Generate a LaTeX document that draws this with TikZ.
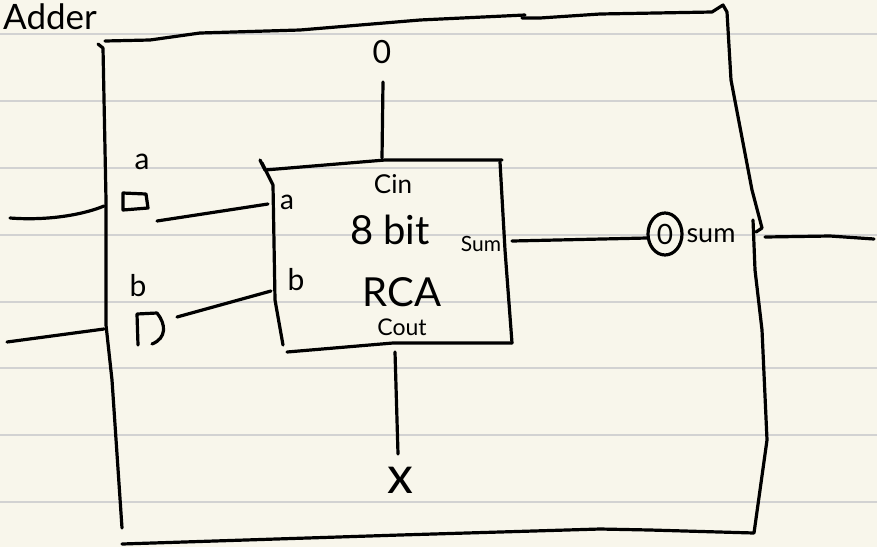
\documentclass[tikz,border=0pt]{standalone}
\usepackage{fontspec}
\setmainfont{Lato}
\definecolor{paper}{HTML}{F8F6EB}
\definecolor{rule}{HTML}{D2D2D2}
\begin{document}
\begin{tikzpicture}[x=1pt,y=-1pt,
  ink/.style={line width=3.2pt,line cap=round,line join=round,black},
  ruleline/.style={line width=2pt,rule},
  lbl/.style={inner sep=0pt,font=\fontsize{30}{30}\selectfont},
  big/.style={inner sep=0pt,font=\fontsize{40}{40}\selectfont}]
\useasboundingbox (0,0) rectangle (877,547);
\fill[paper] (0,0) rectangle (877,547);
\foreach \y in {34,101,168,235,302,368,435,502}
  \draw[ruleline] (0,\y) -- (877,\y);

% title
\node[anchor=base west,inner sep=0pt,font=\fontsize{35}{35}\selectfont] (title) at (3,29) {Adder};

% outer box
\draw[ink] (98,44) -- (103,48) -- (106,200) -- (106,325) -- (112,380) -- (122,528);
\draw[ink] (105,41) -- (150,40) -- (200,33) -- (300,30) -- (420,20) -- (525,15);
\draw[ink] (522,18) -- (540,18) -- (600,14) -- (712,12) -- (723,5) -- (727,12) -- (731,80) -- (752,190) -- (762,228) -- (756,232);
\draw[ink] (753,220) -- (755,270) -- (762,330) -- (767,440) -- (754,533) -- (650,530) -- (600,529) -- (400,535) -- (122,544);

% input wires
\coordinate (ainL) at (10,218);
\coordinate (ainR) at (104,206);
\coordinate (binL) at (7,342);
\coordinate (binR) at (104,329);
\draw[ink] (ainL) .. controls (50,221) and (85,214) .. (ainR);
\draw[ink] (binL) -- (binR);

% outer labels & ports
\node[lbl] (la) at (142,162) {a};
\draw[ink] (123,193) -- (123,210) -- (148,208) -- (146,194) -- cycle;
\node[lbl] (lb) at (138,286) {b};
\draw[ink] (138,345) -- (137,314) -- (157,313) .. controls (166,324) and (167,338) .. (152,344);

% inner RCA box
\draw[ink] (260,160) -- (265,170) -- (385,160) -- (502,160);
\draw[ink] (262,163) -- (273,185) -- (275,300) -- (283,345);
\draw[ink] (500,162) -- (505,250) -- (512,343);
\draw[ink] (287,352) -- (393,343) -- (512,343);

\node[lbl,font=\fontsize{28}{28}\selectfont] (ia) at (287,202) {a};
\node[lbl] (ib) at (296,280) {b};
\node[lbl,font=\fontsize{26}{26}\selectfont] (cin) at (393,184) {Cin};
\node[big] (bits) at (390,230) {8 bit};
\node[big] (rca) at (402,292) {RCA};
\node[lbl,font=\fontsize{23}{23}\selectfont] (cout) at (402,327) {Cout};
\node[lbl,font=\fontsize{21}{21}\selectfont] (isum) at (481,244) {Sum};

\coordinate (aPort) at (157,221);
\coordinate (aPin) at (268,204);
\coordinate (bPort) at (177,317);
\coordinate (bPin) at (271,291);
\draw[ink] (aPort) -- (aPin);
\draw[ink] (bPort) -- (bPin);

% top constant 0
\node[lbl,font=\fontsize{32}{32}\selectfont] (zero) at (382,52) {0};
\coordinate (cinT) at (383,82);
\coordinate (cinB) at (382,158);
\draw[ink] (cinT) -- (cinB);

% bottom cout unconnected
\coordinate (coutT) at (395,352);
\coordinate (coutB) at (398,454);
\draw[ink] (coutT) -- (coutB);
\node[inner sep=0pt,font=\fontsize{52}{52}\selectfont] (xx) at (400,480) {x};

% sum output
\node[inner sep=0pt,font=\fontsize{28}{28}\selectfont] (szero) at (665,234) {0};
\draw[ink] (665,234) ellipse [x radius=17,y radius=21];
\node[lbl,font=\fontsize{27}{27}\selectfont] (osum) at (711,236) {sum};
\coordinate (sumOut) at (512,241);
\coordinate (sumIn) at (647,238);
\draw[ink] (sumOut) -- (sumIn);
\coordinate (outL) at (765,237);
\coordinate (outR) at (874,239);
\draw[ink] (outL) -- (830,236) -- (outR);
\end{tikzpicture}
\end{document}
